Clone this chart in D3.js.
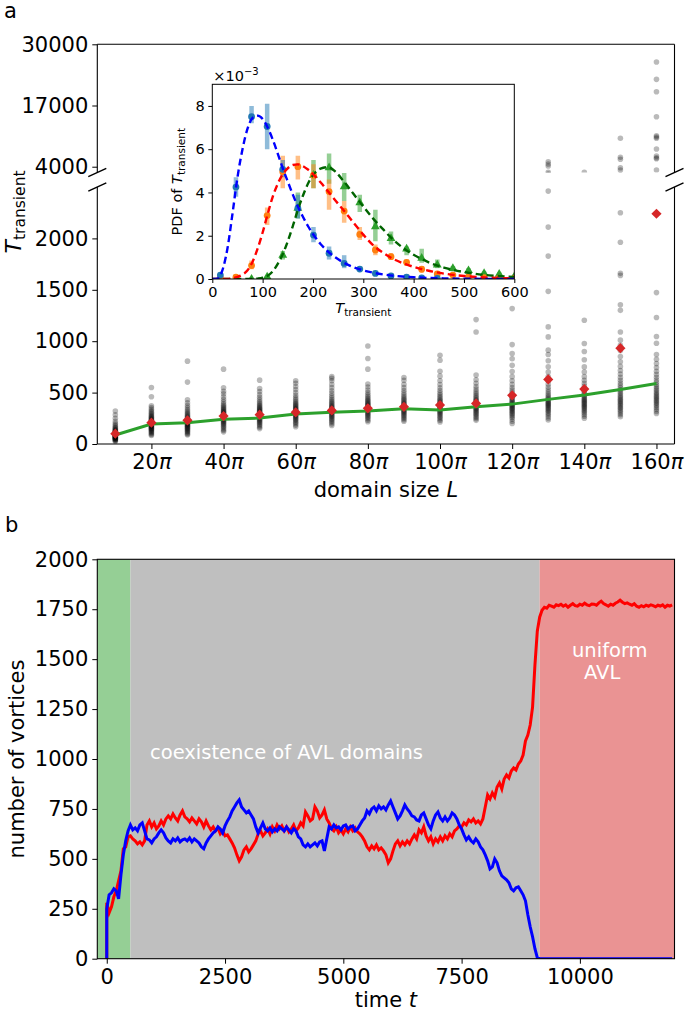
<!DOCTYPE html>
<html><head><meta charset="utf-8">
<script src="https://cdn.jsdelivr.net/npm/d3@7"></script>
<style>
body{margin:0;background:#fff}
svg{display:block}
text{font-family:"DejaVu Sans",sans-serif;fill:#000}
</style>
</head><body>
<svg id="c" width="685" height="1011"></svg>
<script>
// ---------------- DATA ----------------
// panel a: domain size L in units of pi
const L = [10,20,30,40,50,60,70,80,90,100,110,120,130,140,150,160];
// individual transient times per L (gray dots)
const transientSamples = [
 [25,32,38,42,46,50,54,57,60,63,66,69,72,75,78,81,84,87,90,93,96,99,102,105,109,113,117,121,126,131,137,144,152,161,172,185,200,220,250,285,320],
 [82,92,102,112,120,128,135,142,148,154,160,165,170,175,180,185,190,195,200,205,210,215,220,226,232,238,245,252,260,268,277,287,298,310,323,338,355,372,460,550],
 [88,98,108,118,127,136,144,152,159,166,173,180,186,192,198,204,210,216,222,228,234,241,248,256,264,273,283,294,306,320,336,354,375,400,430,602,806],
 [118,132,146,160,172,184,195,205,214,222,230,238,245,252,259,266,273,280,287,294,301,308,316,324,333,342,352,364,377,392,410,432,458,488,512,547,728],
 [150,164,178,190,202,212,222,231,239,247,255,262,269,276,283,290,297,304,311,318,326,334,342,351,361,372,384,398,414,432,454,480,510,540,621],
 [168,184,199,212,224,235,245,255,264,273,281,289,297,305,313,321,329,337,345,353,362,371,381,392,404,418,434,452,474,500,530,560,590,615],
 [180,196,211,225,237,249,260,270,280,289,298,306,314,322,330,338,346,354,363,372,382,393,405,418,433,450,470,492,518,548,580,615,640,655],
 [217,232,246,259,271,282,292,302,311,320,328,336,344,352,360,368,376,384,393,402,412,423,435,448,463,480,500,525,555,583,728,832,954],
 [222,237,251,264,276,287,298,308,318,327,336,345,354,363,372,381,390,399,409,420,432,445,460,477,497,520,548,580,620,647],
 [215,231,246,260,273,285,296,307,317,327,336,345,354,363,372,381,390,400,410,421,433,446,461,478,497,520,547,578,615,660,708,815,864],
 [230,246,261,275,288,300,311,322,332,342,351,360,369,378,387,396,405,415,425,436,448,461,476,493,512,534,560,590,625,670,1090,1210],
 [200,222,242,259,274,288,300,311,322,332,342,351,360,369,378,387,396,406,416,427,439,452,467,484,503,525,550,580,615,655,705,765,830,880,967,1317],
 [233,254,273,290,305,318,330,341,352,362,372,381,390,399,409,419,430,442,455,470,487,506,528,553,582,615,655,700,752,810,870,913,1042,1139,1485,1828,2110,2460,2800,4150,4575,5064],
 [250,270,288,304,318,331,343,354,365,375,385,395,405,415,425,436,447,459,472,486,502,520,540,563,590,620,655,700,750,820,900,977,1204,2800],
 [265,284,302,318,333,347,360,373,386,398,410,422,435,448,462,477,493,510,528,548,570,594,620,648,680,715,755,800,850,910,960,1010,1090,1300,1355,1640,1660,1962,2250,3300,3790,5570,6000,10034],
 [297,317,336,353,369,384,398,411,424,437,450,463,477,491,506,522,539,557,577,599,623,649,677,708,743,782,825,870,980,1045,1230,1473,3300,5700,5900,6270,7760,10030,10300,10590,14620,19930,22560,26240]
];
const meanT = [100,207,230,272,285,308,327,347,362,379,395,473,628,534,932,2240];
const typicalT = [87,194,207,240,252,291,308,320,343,330,362,388,434,476,531,589];
const lowTicks = [0,500,1000,1500,2000];
const upTicks = [4000,17000,30000];
const xTicksA = [20,40,60,80,100,120,140,160];

// inset: histogram bins (PDF x1e-3)
const binX = [16,47,78,109,140,170,201,232,262,293,324,355,386,416,447,478,509,540,570,600];
const pdfBlue   = [0.18,4.25,7.5,7.05,5.07,3.27,2.03,1.19,0.72,0.46,0.26,0.14,0.09,0.05,0.03];
const blueLo    = [0.08,3.8,7.2,6.0,4.7,2.8,1.7,0.9,0.5,0.4,0.2,0.1,0.05,0.02,0.01];
const blueHi    = [0.28,4.7,8.0,8.1,5.5,3.9,2.4,1.5,1.1,0.55,0.35,0.2,0.14,0.08,0.05];
const pdfOrange = [0.05,0.08,0.62,2.93,4.96,5.19,4.8,4.04,3.14,2.06,1.34,1.03,0.77,0.45,0.23,0.18,0.1,0.06,0.04,0.03];
const orangeLo  = [0.02,0.02,0.45,2.5,4.2,4.6,4.2,3.2,2.6,1.8,1.1,0.9,0.6,0.3,0.15,0.1,0.05,0.03,0.02,0.01];
const orangeHi  = [0.08,0.15,0.85,3.3,5.7,5.7,5.3,4.6,3.6,2.4,1.6,1.2,0.9,0.6,0.35,0.25,0.15,0.1,0.07,0.05];
const pdfGreen  = [0,0,0,0.1,1.1,3.27,4.8,5.15,4.27,3.53,2.42,1.88,1.39,0.96,0.65,0.49,0.39,0.26,0.22,0.11];
const greenLo   = [0,0,0,0.05,0.9,2.8,4.2,4.4,3.6,3.1,1.75,1.6,1.1,0.75,0.5,0.35,0.3,0.2,0.15,0.05];
const greenHi   = [0,0,0,0.15,1.3,4.0,5.5,5.8,4.9,3.9,3.2,2.2,1.5,1.4,0.9,0.6,0.5,0.35,0.3,0.2];
// fitted curves
const fitX     = [0,10,20,30,40,50,60,70,80,90,100,110,120,130,140,150,160,170,180,190,200,215,230,245,260,280,300,320,340,360,380,400,430,460,500,550,600];
const fitBlue  = [0,0.02,0.4,1.4,3.0,4.7,6.0,6.95,7.45,7.55,7.4,7.0,6.45,5.8,5.12,4.5,3.9,3.35,2.88,2.45,2.08,1.62,1.27,0.99,0.77,0.55,0.4,0.29,0.21,0.15,0.11,0.08,0.05,0.03,0.015,0.006,0.002];
const fitRed   = [0,0,0,0,0.03,0.1,0.2,0.4,0.8,1.4,2.15,3.0,3.8,4.4,4.85,5.12,5.27,5.3,5.22,5.06,4.85,4.47,4.05,3.62,3.2,2.62,2.05,1.55,1.2,0.92,0.72,0.56,0.38,0.25,0.14,0.06,0.03];
const fitGreen = [0,0,0,0,0,0,0,0,0,0.02,0.06,0.15,0.35,0.7,1.15,1.75,2.45,3.2,3.85,4.4,4.8,5.1,5.17,4.95,4.55,3.95,3.35,2.78,2.28,1.8,1.42,1.12,0.77,0.53,0.32,0.17,0.09];
const insetXTicks = [0,100,200,300,400,500,600];
const insetYTicks = [0,2,4,6,8];

// panel b: number of vortices vs time (sampled every 50 time units)
const timeT = d3.range(0, 12000, 50);
const redCount = [
 280,230,260,310,340,390,440,550,560,610,615,600,590,575,585,570,590,670,690,660,
 680,650,665,690,670,700,715,700,725,705,690,720,740,710,700,685,705,690,675,700,
 685,660,690,665,645,660,640,655,625,640,615,620,600,580,555,520,490,510,545,560,
 535,550,570,590,625,640,615,630,650,625,660,640,670,650,665,640,660,635,650,670,
 640,655,680,665,735,715,690,700,760,740,705,720,745,700,680,650,640,660,630,645,
 625,650,635,660,640,655,635,625,610,590,560,545,565,550,570,545,555,540,520,480,
 500,540,575,590,565,585,570,590,575,600,620,600,645,630,660,615,590,610,575,600,
 585,610,590,615,600,625,610,640,650,665,660,680,670,695,685,700,680,690,675,700,
 760,820,800,830,810,860,880,850,900,920,905,940,955,945,975,990,1020,1090,1120,1170,
 1260,1470,1640,1710,1745,1760,1755,1770,1765,1760,1772,1768,1775,1765,1772,1760,1770,1778,1768,1765,
 1775,1770,1780,1772,1768,1776,1775,1770,1782,1790,1778,1772,1765,1775,1770,1780,1786,1795,1785,1778,
 1782,1775,1770,1778,1765,1760,1768,1762,1770,1765,1772,1768,1762,1770,1766,1772,1760,1770,1766,1772
];
const blueCount = [
 250,320,330,350,340,300,420,520,590,640,670,645,655,640,670,680,640,600,595,580,
 600,610,630,645,630,605,590,580,600,590,605,585,595,600,590,605,585,600,590,580,
 560,550,580,600,615,630,640,660,650,630,665,690,710,740,760,780,795,760,745,730,
 740,720,700,660,630,655,680,650,640,655,635,650,640,660,650,640,660,645,630,650,
 640,610,600,570,560,575,560,570,580,565,585,590,540,600,660,650,670,655,660,645,
 665,670,650,660,665,640,650,670,690,705,740,725,750,760,740,765,750,760,745,770,
 790,760,730,700,715,740,770,750,735,715,710,695,690,720,730,700,670,650,690,720,
 735,705,690,710,690,705,730,720,700,670,650,620,595,610,590,580,600,585,560,545,
 520,490,450,460,500,480,440,415,405,395,380,350,340,355,360,340,320,290,220,160,
 110,50,5,0,0,0,0,0,0,0,0,0,0,0,0,0,0,0,0,0,
 0,0,0,0,0,0,0,0,0,0,0,0,0,0,0,0,0,0,0,0,
 0,0,0,0,0,0,0,0,0,0,0,0,0,0,0,0,0,0,0,0
];
const startCount = 0;
const phases = [
 {from:-200, to:500,  color:'#95cf95'},
 {from:500,  to:9150, color:'#bfbfbf'},
 {from:9150, to:12000,color:'#ea9393'}
];
const bXTicks = [0,2500,5000,7500,10000];
const bYTicks = [0,250,500,750,1000,1250,1500,1750,2000];

// ---------------- DRAW ----------------
const svg = d3.select('#c');
const FS = 21;
const defs = svg.append('defs');

function styleAxis(g, fs){
  g.select('.domain').remove();
  g.selectAll('.tick line').attr('stroke','#000').attr('stroke-width',1);
  g.selectAll('.tick text').attr('font-size',fs).attr('font-family','DejaVu Sans').attr('fill','#000');
  g.attr('font-family',null).attr('font-size',null);
}

// ===== Panel a =====
const AL = 97.3, AR = 674.5;
const xT = d3.scaleLinear().domain([5,165]).range([AL,AR]);
const yLo = d3.scaleLinear().domain([0,2500]).range([444,187]);
const yUp = d3.scaleLinear().domain([2770,30000]).range([172.5,44.3]);

defs.append('clipPath').attr('id','clipLo').append('rect')
  .attr('x',AL).attr('y',187).attr('width',AR-AL).attr('height',444-187);
defs.append('clipPath').attr('id','clipUp').append('rect')
  .attr('x',AL).attr('y',44.3).attr('width',AR-AL).attr('height',172.5-44.3);

const gLo = svg.append('g').attr('clip-path','url(#clipLo)');
const gUp = svg.append('g').attr('clip-path','url(#clipUp)');

const pts = [];
L.forEach((l,i)=>transientSamples[i].forEach(v=>pts.push({l,v})));
[[gLo,yLo],[gUp,yUp]].forEach(([g,y])=>{
  g.selectAll('circle.s').data(pts).join('circle').attr('class','s')
    .attr('cx',d=>xT(d.l)).attr('cy',d=>y(d.v)).attr('r',2.8)
    .attr('fill','#000').attr('fill-opacity',0.27);
});
gLo.append('path').datum(L.map((l,i)=>[l,typicalT[i]]))
  .attr('d',d3.line().x(d=>xT(d[0])).y(d=>yLo(d[1])))
  .attr('fill','none').attr('stroke','#2ca02c').attr('stroke-width',3);
gLo.selectAll('path.dm').data(L.map((l,i)=>[l,meanT[i]])).join('path').attr('class','dm')
  .attr('d',d3.symbol(d3.symbolSquare,52)())
  .attr('transform',d=>`translate(${xT(d[0])},${yLo(d[1])}) rotate(45)`)
  .attr('fill','#d62728');

// spines
const sp = svg.append('g').attr('stroke','#000').attr('stroke-width',1.1).attr('fill','none');
sp.append('line').attr('x1',AL).attr('x2',AR).attr('y1',44.3).attr('y2',44.3);
sp.append('line').attr('x1',AL).attr('x2',AL).attr('y1',44.3).attr('y2',172.5);
sp.append('line').attr('x1',AR).attr('x2',AR).attr('y1',44.3).attr('y2',172.5);
sp.append('line').attr('x1',AL).attr('x2',AL).attr('y1',187).attr('y2',444);
sp.append('line').attr('x1',AR).attr('x2',AR).attr('y1',187).attr('y2',444);
sp.append('line').attr('x1',AL).attr('x2',AR).attr('y1',444).attr('y2',444);
[[AL,172.5],[AR,172.5],[AL,187],[AR,187]].forEach(([x,y])=>{
  sp.append('line').attr('x1',x-9).attr('y1',y+4.2).attr('x2',x+9).attr('y2',y-4.2).attr('stroke-width',1.4);
});

// axes
const axLo = svg.append('g').attr('transform',`translate(${AL},0)`)
  .call(d3.axisLeft(yLo).tickValues(lowTicks).tickSize(5).tickPadding(4).tickFormat(d3.format('d')));
styleAxis(axLo,FS);
const axUp = svg.append('g').attr('transform',`translate(${AL},0)`)
  .call(d3.axisLeft(yUp).tickValues(upTicks).tickSize(5).tickPadding(4).tickFormat(d3.format('d')));
styleAxis(axUp,FS);
const axXa = svg.append('g').attr('transform','translate(0,444)')
  .call(d3.axisBottom(xT).tickValues(xTicksA).tickSize(5).tickPadding(5));
styleAxis(axXa,FS);
axXa.selectAll('.tick text').each(function(d){
  const t = d3.select(this); t.text(null);
  t.append('tspan').text(d);
  t.append('tspan').attr('font-style','italic').text('π');
});

// labels panel a
svg.append('text').attr('x',4).attr('y',18).attr('font-size',FS).text('a');
svg.append('text').attr('transform','translate(21,212) rotate(-90)').attr('text-anchor','middle')
  .call(t=>{
    t.append('tspan').attr('font-size',22).attr('font-style','italic').text('T');
    t.append('tspan').attr('font-size',15.5).attr('dy',4).text('transient');
  });
svg.append('text').attr('x',(AL+AR)/2).attr('y',497).attr('text-anchor','middle').attr('font-size',FS)
  .call(t=>{t.append('tspan').text('domain size ');t.append('tspan').attr('font-style','italic').text('L');});

// ===== Inset =====
const IL=212.3, IR=514.3, IT=84.3, IB=279;
const xI = d3.scaleLinear().domain([0,600]).range([IL,IR]);
const yI = d3.scaleLinear().domain([0,9]).range([IB,IT]);
svg.append('rect').attr('x',IL).attr('y',IT).attr('width',IR-IL).attr('height',IB-IT).attr('fill','#fff');
defs.append('clipPath').attr('id','clipIn').append('rect').attr('x',IL).attr('y',IT).attr('width',IR-IL).attr('height',IB-IT);
const gi = svg.append('g').attr('clip-path','url(#clipIn)');

const sets = [
  {y:pdfGreen, lo:greenLo, hi:greenHi, c:'#2ca02c', m:'tri'},
  {y:pdfOrange, lo:orangeLo, hi:orangeHi, c:'#ff7f0e', m:'circ'},
  {y:pdfBlue, lo:blueLo, hi:blueHi, c:'#1f77b4', m:'circ'}
];
sets.forEach(s=>{
  const rows = s.y.map((v,i)=>({x:binX[i],y:v,lo:s.lo[i],hi:s.hi[i]}));
  gi.selectAll(null).data(rows).join('line')
    .attr('x1',d=>xI(d.x)).attr('x2',d=>xI(d.x)).attr('y1',d=>yI(d.lo)).attr('y2',d=>yI(d.hi))
    .attr('stroke',s.c).attr('stroke-opacity',0.5).attr('stroke-width',4.5);
});
sets.forEach(s=>{
  const rows = s.y.map((v,i)=>({x:binX[i],y:v}));
  if(s.m==='circ'){
    gi.selectAll(null).data(rows).join('circle')
      .attr('cx',d=>xI(d.x)).attr('cy',d=>yI(d.y)).attr('r',3.4).attr('fill',s.c);
  } else {
    gi.selectAll(null).data(rows).join('path')
      .attr('d',d3.symbol(d3.symbolTriangle,34)())
      .attr('transform',d=>`translate(${xI(d.x)},${yI(d.y)})`).attr('fill',s.c);
  }
});
const fitLine = d3.line().curve(d3.curveMonotoneX).x((d,i)=>xI(fitX[i])).y(d=>yI(d));
[[fitGreen,'#006400'],[fitRed,'#ff0000'],[fitBlue,'#0000ff']].forEach(([f,c])=>{
  gi.append('path').datum(f).attr('d',fitLine).attr('fill','none').attr('stroke',c)
    .attr('stroke-width',2.4).attr('stroke-dasharray','7,4');
});
svg.append('rect').attr('x',IL).attr('y',IT).attr('width',IR-IL).attr('height',IB-IT)
  .attr('fill','none').attr('stroke','#000').attr('stroke-width',1);
const axIy = svg.append('g').attr('transform',`translate(${IL},0)`)
  .call(d3.axisLeft(yI).tickValues(insetYTicks).tickSize(4).tickPadding(3.5));
styleAxis(axIy,14.5);
const axIx = svg.append('g').attr('transform',`translate(0,${IB})`)
  .call(d3.axisBottom(xI).tickValues(insetXTicks).tickSize(4).tickPadding(3.5));
styleAxis(axIx,14.5);
svg.append('text').attr('x',IL+1).attr('y',81).attr('font-size',14.5)
  .call(t=>{t.append('tspan').text('×10');t.append('tspan').attr('font-size',10).attr('dy',-6).text('−3');});
svg.append('text').attr('x',(IL+IR)/2).attr('y',313).attr('text-anchor','middle')
  .call(t=>{
    t.append('tspan').attr('font-size',14.5).attr('font-style','italic').text('T');
    t.append('tspan').attr('font-size',10.5).attr('dy',3).text('transient');
  });
svg.append('text').attr('transform',`translate(182,${(IT+IB)/2}) rotate(-90)`).attr('text-anchor','middle')
  .call(t=>{
    t.append('tspan').attr('font-size',14.5).text('PDF of ');
    t.append('tspan').attr('font-size',14.5).attr('font-style','italic').text('T');
    t.append('tspan').attr('font-size',10.5).attr('dy',3).text('transient');
  });

// ===== Panel b =====
const BT = 559.3, BB = 958.7;
const xB = d3.scaleLinear().domain([-200,12000]).range([AL,AR]);
const yB = d3.scaleLinear().domain([0,2000]).range([BB,BT]);
defs.append('clipPath').attr('id','clipB').append('rect').attr('x',AL).attr('y',BT).attr('width',AR-AL).attr('height',BB-BT);
const gb = svg.append('g').attr('clip-path','url(#clipB)');
gb.selectAll('rect.ph').data(phases).join('rect').attr('class','ph')
  .attr('x',d=>xB(d.from)).attr('width',d=>xB(d.to)-xB(d.from))
  .attr('y',BT).attr('height',BB-BT).attr('fill',d=>d.color);

const tsLine = d3.line().x(d=>xB(d[0])).y(d=>yB(d[1]));
[[redCount,'#ff0000'],[blueCount,'#0000ff']].forEach(([arr,c])=>{
  const data = [[0,startCount]].concat(timeT.map((t,i)=>[t,arr[i]]));
  gb.append('path').datum(data).attr('d',tsLine).attr('fill','none').attr('stroke',c)
    .attr('stroke-width',3).attr('stroke-linejoin','miter');
});
gb.append('text').attr('x',150).attr('y',759).attr('font-size',19.5).style('fill','#fff')
  .text('coexistence of AVL domains');
gb.append('text').attr('x',572).attr('y',657).attr('font-size',19.5).style('fill','#fff').text('uniform');
gb.append('text').attr('x',584).attr('y',679).attr('font-size',19.5).style('fill','#fff').text('AVL');

svg.append('rect').attr('x',AL).attr('y',BT).attr('width',AR-AL).attr('height',BB-BT)
  .attr('fill','none').attr('stroke','#000').attr('stroke-width',1.1);
const axBy = svg.append('g').attr('transform',`translate(${AL},0)`)
  .call(d3.axisLeft(yB).tickValues(bYTicks).tickSize(5).tickPadding(4).tickFormat(d3.format('d')));
styleAxis(axBy,FS);
const axBx = svg.append('g').attr('transform',`translate(0,${BB})`)
  .call(d3.axisBottom(xB).tickValues(bXTicks).tickSize(5).tickPadding(5).tickFormat(d3.format('d')));
styleAxis(axBx,FS);

svg.append('text').attr('x',5).attr('y',531.5).attr('font-size',FS).text('b');
svg.append('text').attr('x',(AL+AR)/2).attr('y',1007).attr('text-anchor','middle').attr('font-size',FS)
  .call(t=>{t.append('tspan').text('time ');t.append('tspan').attr('font-style','italic').text('t');});
svg.append('text').attr('transform',`translate(24,${(BT+BB)/2}) rotate(-90)`).attr('text-anchor','middle')
  .attr('font-size',FS).text('number of vortices');
</script>
</body></html>
